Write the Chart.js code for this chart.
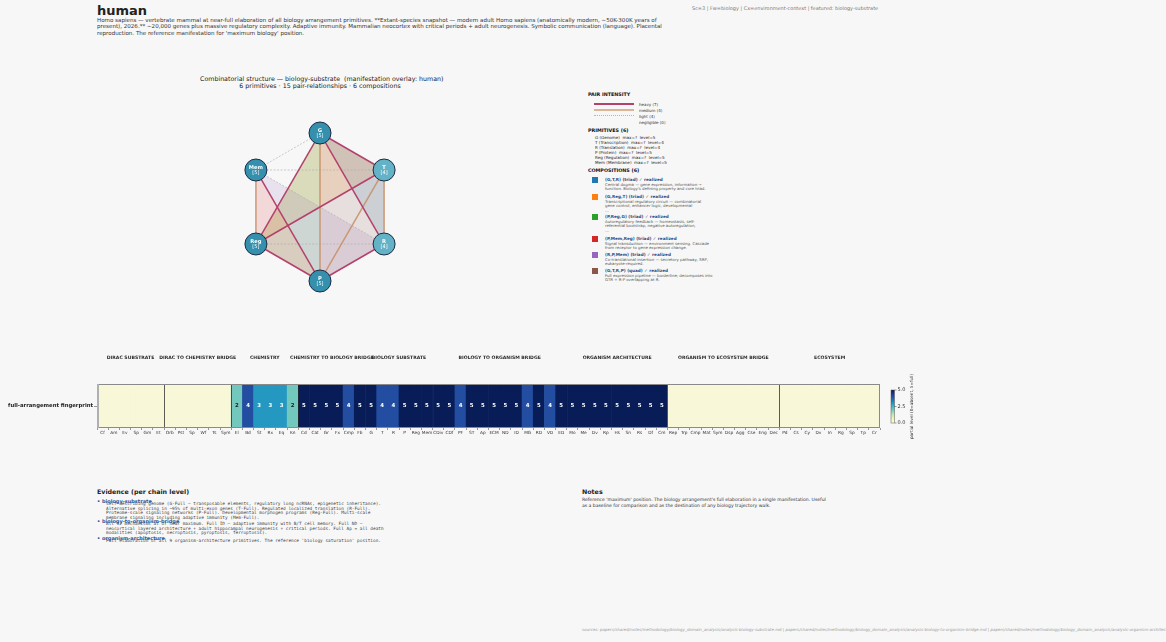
<!DOCTYPE html>
<html><head><meta charset="utf-8">
<script src="https://cdn.jsdelivr.net/npm/chart.js@4/dist/chart.umd.min.js"></script>
<style>
html,body{margin:0;padding:0}
body{background:#f7f7f7;width:1166px;height:642px;position:relative;overflow:hidden;font-family:"DejaVu Sans",sans-serif;color:#222}
.a{position:absolute;white-space:nowrap}
.mono{font-family:"DejaVu Sans Mono",monospace}
canvas{position:absolute}
</style></head><body>
<div class="a" style="left:97px;top:3px;font-size:13px;font-weight:bold;color:#222">human</div>
<div class="a" style="left:97px;top:16.5px;font-size:5.55px;line-height:6.5px;color:#333">Homo sapiens — vertebrate mammal at near-full elaboration of all biology arrangement primitives. **Extant-species snapshot — modern adult Homo sapiens (anatomically modern, ~50K-300K years of<br>present), 2026.** ~20,000 genes plus massive regulatory complexity. Adaptive immunity. Mammalian neocortex with critical periods + adult neurogenesis. Symbolic communication (language). Placental<br>reproduction. The reference manifestation for 'maximum biology' position.</div>
<div class="a" style="left:692px;top:5px;font-size:4.95px;color:#777">Sc=3 | Fw=biology | Cx=environment-context | featured: biology-substrate</div>

<div class="a" style="left:200px;top:75px;width:240px;text-align:center;font-size:6.3px;line-height:7px;color:#222">Combinatorial structure — biology-substrate&nbsp; (manifestation overlay: human)<br>6 primitives · 15 pair-relationships · 6 compositions</div>
<canvas id="net" width="180" height="180" style="left:230px;top:117px"></canvas>

<div id="legend"></div>

<canvas id="heat" width="960" height="100" style="left:0;top:345px"></canvas>

<div class="a" style="left:97px;top:487.5px;font-size:6.3px;font-weight:bold;color:#222">Evidence (per chain level)</div>
<div id="evidence"></div>

<div class="a" style="left:582px;top:487.5px;font-size:6.3px;font-weight:bold;color:#222">Notes</div>
<div class="a" style="left:582px;top:497px;font-size:4.55px;line-height:5.6px;color:#333">Reference 'maximum' position. The biology arrangement's full elaboration in a single manifestation. Useful<br>as a baseline for comparison and as the destination of any biology trajectory walk.</div>
<div class="a" style="left:582px;top:627px;font-size:4px;color:#9a9a9a;font-style:italic">sources: papers/shared/notes/methodology/biology_domain_analysis/analysis-biology-substrate.md | papers/shared/notes/methodology/biology_domain_analysis/analysis-biology-to-organism-bridge.md | papers/shared/notes/methodology/biology_domain_analysis/analysis-organism-architecture.md</div>

<script>
// ---------------- DATA ----------------
const primitives = ['G','T','R','P','Reg','Mem'];
const primitiveNames = ['Genome','Transcription','Translation','Protein','Regulation','Membrane'];
const primitiveLevels = [5,4,4,5,5,5];
const pairHeavy = [['G','T'],['G','R'],['G','Reg'],['T','Reg'],['R','P'],['P','Reg'],['P','Mem']];
const pairMedium = [['G','P'],['T','R'],['T','P'],['Reg','Mem']];
const pairLight = [['G','Mem'],['T','Mem'],['R','Reg'],['R','Mem']];
const pairNegligible = [];
const compositions = [['G','T','R'],['G','Reg','T'],['P','Reg','G'],['P','Mem','Reg'],['R','P','Mem'],['G','T','R','P']];
const compositionKinds = ['triad','triad','triad','triad','triad','quad'];
const compositionDescs = [
  ['Central dogma — gene expression, information →','function. Biology\'s defining property and core triad.'],
  ['Transcriptional regulatory circuit — combinatorial','gene control, enhancer logic, developmental','…'],
  ['Autoregulatory feedback — homeostasis, self-','referential bootstrap, negative autoregulation,','…'],
  ['Signal transduction — environment sensing. Cascade','from receptor to gene expression change.'],
  ['Co-translational insertion — secretory pathway, SRP,','eukaryote-required.'],
  ['Full expression pipeline — borderline; decomposes into','GTR + R-P overlapping at R.']
];

const groupNames = ['DIRAC SUBSTRATE','DIRAC TO CHEMISTRY BRIDGE','CHEMISTRY','CHEMISTRY TO BIOLOGY BRIDGE','BIOLOGY SUBSTRATE','BIOLOGY TO ORGANISM BRIDGE','ORGANISM ARCHITECTURE','ORGANISM TO ECOSYSTEM BRIDGE','ECOSYSTEM'];
const groupSizes = [6,6,6,6,6,12,9,10,9];
const tickLabels = ['Cf','Am','Ev','Sp','Gm','Et',
 'Orb','Pst','Sp','Wf','Ts','Sym',
 'El','Bd','St','Rx','Eq','Kn',
 'Cd','Cat','Gr','Fx','Cmp','Fb',
 'G','T','R','P','Reg','Mem',
 'CDiv','CDf','PF','ST','Ap','ECM','ND','ID','MG','RD','VD','ED',
 'Mo','Me','Dv','Rp','Hs','Sn','Rs','Df','Cm',
 'Rep','Trp','Cmp','Mat','Sym','Dsp','Agg','Cse','Eng','Dec',
 'Pd','Cs','Cy','Dv','In','Rg','Sp','Tp','Cr'];
const levels = [null,null,null,null,null,null,
 null,null,null,null,null,null,
 2,4,3,3,3,2,
 5,5,5,5,4,5,
 5,4,4,5,5,5,
 5,5,4,5,5,5,5,5,4,5,4,5,
 5,5,5,5,5,5,5,5,5,
 null,null,null,null,null,null,null,null,null,null,
 null,null,null,null,null,null,null,null,null];
const rowLabel = 'full-arrangement fingerprint';
const colorbarTicks = [0.0, 2.5, 5.0];
const levelMax = 5;

const evidence = [
 ['biology-substrate',[
  'Self-describing genome (G-Full — transposable elements, regulatory long ncRNAs, epigenetic inheritance).',
  'Alternative splicing in ~95% of multi-exon genes (T-Full). Regulated localized translation (R-Full).',
  'Proteome-scale signaling networks (P-Full). Developmental morphogen programs (Reg-Full). Multi-scale',
  'membrane signaling including adaptive immunity (Mem-Full).']],
 ['biology-to-organism-bridge',[
  'All 12 mechanisms at or near maximum. Full ID — adaptive immunity with B/T cell memory. Full ND —',
  'neocortical layered architecture + adult hippocampal neurogenesis + critical periods. Full Ap = all death',
  'modalities (apoptosis, necroptosis, pyroptosis, ferroptosis).']],
 ['organism-architecture',[
  'Full elaboration of all 9 organism-architecture primitives. The reference \'biology saturation\' position.']]
];

// ---------------- STYLE ----------------
const tab10 = ['#1f77b4','#ff7f0e','#2ca02c','#d62728','#9467bd','#8c564b'];
const heavyColor = '#b2416c', mediumColor = 'rgba(198,145,105,0.9)', lightColor = '#a9a9a9';
const ylgnbu = ['#ffffd9','#edf8b1','#c7e9b4','#7fcdbb','#41b6c4','#1d91c0','#225ea8','#253494','#081d58'];
function hex2rgb(h){return [parseInt(h.slice(1,3),16),parseInt(h.slice(3,5),16),parseInt(h.slice(5,7),16)];}
function cmap(t){
  t=Math.max(0,Math.min(1,t)); const n=ylgnbu.length-1; const f=t*n; const i=Math.min(n-1,Math.floor(f)); const r=f-i;
  const a=hex2rgb(ylgnbu[i]), b=hex2rgb(ylgnbu[i+1]);
  return 'rgb('+a.map((v,k)=>Math.round(v+(b[k]-v)*r)).join(',')+')';
}
const absentColor = '#f8f7d7';

// ---------------- LEGEND (HTML) ----------------
(function(){
  const L=document.getElementById('legend'); let h='';
  const t=(x,y,s,st)=>{h+=`<div class="a" style="left:${x}px;top:${y}px;${st}">${s}</div>`;};
  t(588,92,'PAIR INTENSITY','font-size:4.8px;font-weight:bold;color:#111');
  const rows=[['heavy',pairHeavy.length,`height:1.6px;background:${heavyColor}`],['medium',pairMedium.length,`height:1.6px;background:#dcb496`],['light',pairLight.length,`height:0;border-top:0.8px dotted #b5b5b5`],['negligible',pairNegligible.length,'']];
  rows.forEach((r,i)=>{
    const y=104+i*6;
    if(r[2]) h+=`<div class="a" style="left:594px;top:${y-0.8}px;width:40px;${r[2]}"></div>`;
    t(639,y-2.5,`${r[0]} (${r[1]})`,'font-size:4px;color:#333');
  });
  t(588,127.5,`PRIMITIVES (${primitives.length})`,'font-size:4.8px;font-weight:bold;color:#111');
  primitives.forEach((p,i)=>{ t(595,134.5+i*5,`${p} (${primitiveNames[i]})&nbsp; max=?&nbsp; level=${primitiveLevels[i]}`,'font-size:4.1px;color:#222'); });
  t(588,168,`COMPOSITIONS (${compositions.length})`,'font-size:4.8px;font-weight:bold;color:#111');
  const ys=[176.5,193.5,213.5,235.5,251.5,267.5];
  compositions.forEach((c,i)=>{
    const y=ys[i];
    h+=`<div class="a" style="left:592px;top:${y}px;width:6px;height:6px;background:${tab10[i]}"></div>`;
    t(605,y,`(${c.join(',')}) (${compositionKinds[i]}) ✓ realized`,'font-size:4.2px;font-weight:bold;color:#2a4e86');
    compositionDescs[i].forEach((d,k)=>t(605,y+5+k*4.6,d,'font-size:3.9px;color:#555'));
  });
  L.innerHTML=h;
})();

// ---------------- EVIDENCE (HTML) ----------------
(function(){
  const E=document.getElementById('evidence'); let h='';
  const heads=[497.5,517.5,534.5];
  evidence.forEach((e,i)=>{
    const y=heads[i];
    e[1].forEach((line,k)=>{ h+=`<div class="a mono" style="left:106px;top:${y+3.3+k*4.75}px;font-size:4.4px;color:#444">${line}</div>`; });
    h+=`<div class="a" style="left:97px;top:${y}px;font-size:5px;font-weight:bold;color:#2a5a9a">• ${e[0]}</div>`;
  });
  E.innerHTML=h;
})();

// ---------------- NETWORK CHART ----------------
const R = 74, HALF = 90;
const pos = {};
primitives.forEach((p,i)=>{ const a=(90-60*i)*Math.PI/180; pos[p]={x:Math.cos(a),y:Math.sin(a)}; });
const edgeDs = (pairs,color,width,dash,order)=>pairs.map(pr=>({type:'line',order:order,data:[pos[pr[0]],pos[pr[1]]],borderColor:color,borderWidth:width,borderDash:dash,pointRadius:0,fill:false,showLine:true,clip:false,tension:0}));
const polyPlugin = {
  id:'poly',
  beforeDatasetsDraw(chart){
    const ctx=chart.ctx, xs=chart.scales.x, ys=chart.scales.y;
    ctx.save();
    compositions.forEach((c,i)=>{
      ctx.beginPath();
      c.forEach((p,k)=>{ const px=xs.getPixelForValue(pos[p].x), py=ys.getPixelForValue(pos[p].y); k?ctx.lineTo(px,py):ctx.moveTo(px,py); });
      ctx.closePath(); ctx.globalAlpha=0.15; ctx.fillStyle=tab10[i]; ctx.fill();
    });
    ctx.restore();
  },
  afterDatasetsDraw(chart){
    const ctx=chart.ctx, xs=chart.scales.x, ys=chart.scales.y;
    ctx.save(); ctx.fillStyle='#fff'; ctx.textAlign='center'; ctx.textBaseline='middle';
    primitives.forEach((p,i)=>{
      const px=xs.getPixelForValue(pos[p].x), py=ys.getPixelForValue(pos[p].y);
      ctx.font='bold 5.2px "DejaVu Sans"'; ctx.fillText(p,px,py-2.6);
      ctx.font='5px "DejaVu Sans"'; ctx.fillText('['+primitiveLevels[i]+']',px,py+3);
    });
    ctx.restore();
  }
};
new Chart(document.getElementById('net'),{
  type:'scatter',
  data:{datasets:[
    ...edgeDs(pairLight,lightColor,0.6,[2,1.5],4),
    ...edgeDs(pairMedium,mediumColor,1.5,[],3),
    ...edgeDs(pairHeavy,heavyColor,1.5,[],2),
    {type:'scatter',order:0,data:primitives.map(p=>pos[p]),pointRadius:11,pointHoverRadius:11,
     backgroundColor:primitiveLevels.map(l=>l>=5?'#3590ae':'#63b2c6'),borderColor:'#1c2a44',borderWidth:1,clip:false}
  ]},
  options:{responsive:false,animation:false,devicePixelRatio:1,
    layout:{padding:0,autoPadding:false},
    scales:{x:{type:'linear',min:-HALF/R,max:HALF/R,display:false},y:{type:'linear',min:-HALF/R,max:HALF/R,display:false}},
    plugins:{legend:{display:false},tooltip:{enabled:false},title:{display:false}},
    events:[]},
  plugins:[polyPlugin]
});

// ---------------- HEATMAP ----------------
const heatPlugin = {
  id:'heatdeco',
  afterDatasetsDraw(chart){
    const ctx=chart.ctx, xs=chart.scales.x, a=chart.chartArea;
    const meta=chart.getDatasetMeta(0);
    ctx.save();
    ctx.textAlign='center'; ctx.textBaseline='middle'; ctx.font='bold 5.4px "DejaVu Sans"';
    meta.data.forEach((bar,i)=>{ const v=levels[i]; if(v==null) return; ctx.fillStyle=v<=2?'#1b1b1b':'#ffffff'; ctx.fillText(String(v),bar.x,(a.top+a.bottom)/2); });
    let idx=0;
    ctx.font='bold 4.6px "DejaVu Sans"'; ctx.fillStyle='#2a2a2a';
    groupSizes.forEach((n,g)=>{
      const start=idx; idx+=n;
      const cx=xs.getPixelForValue(start+(n-1)/2);
      ctx.fillText(groupNames[g],cx,a.top-26);
      if(g<groupSizes.length-1){
        const bx=Math.round(xs.getPixelForValue(idx-0.5))+0.5;
        ctx.beginPath(); ctx.moveTo(bx,a.top); ctx.lineTo(bx,a.bottom); ctx.strokeStyle='rgba(40,40,40,0.75)'; ctx.lineWidth=1; ctx.stroke();
      }
    });
    ctx.strokeStyle='#8a8a8a'; ctx.lineWidth=1; ctx.strokeRect(a.left+0.5,a.top+0.5,a.right-a.left-1,a.bottom-a.top-1);
    ctx.strokeStyle='#b0b0b0'; ctx.lineWidth=2; ctx.beginPath(); ctx.moveTo(a.left+1,a.top); ctx.lineTo(a.left+1,a.bottom); ctx.stroke();
    // colorbar
    const cbL=a.right+11, cbT=a.top+6, cbH=33, cbW=3.5;
    const grad=ctx.createLinearGradient(0,cbT+cbH,0,cbT);
    ylgnbu.forEach((c,k)=>grad.addColorStop(k/(ylgnbu.length-1),c));
    ctx.fillStyle=grad; ctx.fillRect(cbL,cbT,cbW,cbH);
    ctx.strokeStyle='#555'; ctx.lineWidth=0.5; ctx.strokeRect(cbL,cbT,cbW,cbH);
    ctx.font='5px "DejaVu Sans"'; ctx.fillStyle='#333'; ctx.textAlign='left';
    colorbarTicks.forEach(v=>{
      const y=cbT+cbH-(v/levelMax)*cbH;
      ctx.beginPath(); ctx.moveTo(cbL+cbW,y); ctx.lineTo(cbL+cbW+2,y); ctx.strokeStyle='#333'; ctx.stroke();
      ctx.fillText(v.toFixed(1),cbL+cbW+3,y);
    });
    ctx.save(); ctx.translate(cbL+cbW+17,cbT+cbH/2); ctx.rotate(-Math.PI/2);
    ctx.textAlign='center'; ctx.font='4.2px "DejaVu Sans"'; ctx.fillStyle='#333';
    ctx.fillText('partial level (0=absent, 5=full)',0,0); ctx.restore();
    ctx.restore();
  }
};
new Chart(document.getElementById('heat'),{
  type:'bar',
  data:{labels:tickLabels,datasets:[{data:levels.map(()=>1),
    backgroundColor:levels.map(v=>v==null?absentColor:cmap(v/levelMax)),
    borderWidth:0,barPercentage:1,categoryPercentage:1}]},
  options:{responsive:false,animation:false,devicePixelRatio:1,
    layout:{padding:{top:39,right:80,left:0,bottom:0}},
    scales:{
      x:{type:'category',offset:true,grid:{display:true,drawOnChartArea:false,drawTicks:true,tickLength:2,color:'#555',lineWidth:0.6},border:{display:false},
         ticks:{autoSkip:false,maxRotation:0,minRotation:0,font:{size:4.3,family:'DejaVu Sans'},color:'#333',padding:0},
         afterFit(s){s.height=17;}},
      y:{type:'linear',min:0,max:1,grid:{display:true,drawOnChartArea:false,drawTicks:true,tickLength:3,color:'#555',lineWidth:0.6},border:{display:false},
         afterBuildTicks(s){s.ticks=[{value:0.5}];},
         ticks:{callback:()=>rowLabel,font:{size:5.3,weight:'bold',family:'DejaVu Sans'},color:'#222',padding:1},
         afterFit(s){s.width=97;}}
    },
    plugins:{legend:{display:false},tooltip:{enabled:false}},
    events:[]},
  plugins:[heatPlugin]
});
</script>
</body></html>
